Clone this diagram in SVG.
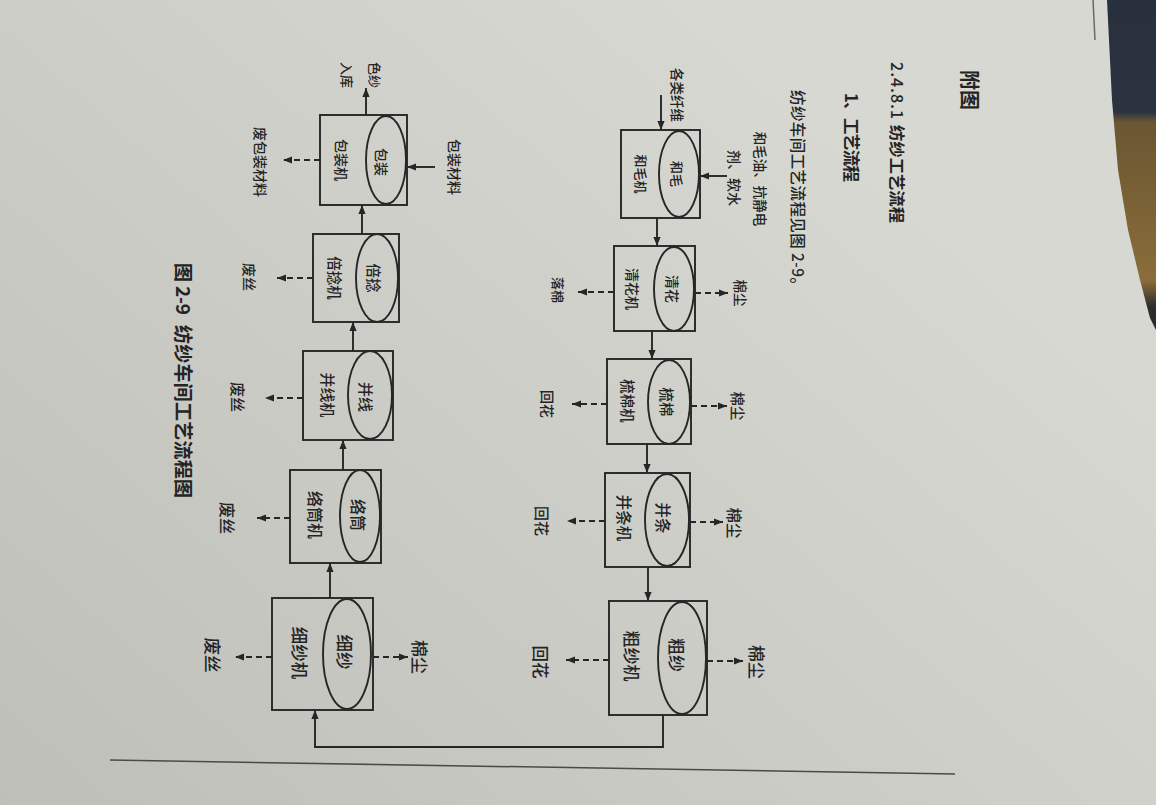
<svg xmlns="http://www.w3.org/2000/svg" width="1156" height="805" viewBox="0 0 1156 805">
<defs>
<linearGradient id="paper" gradientUnits="userSpaceOnUse" x1="0" y1="805" x2="700" y2="0">
<stop offset="0" stop-color="#bebfb9"/>
<stop offset="1" stop-color="#d8d8d2"/>
</linearGradient>
<linearGradient id="edge" gradientUnits="userSpaceOnUse" x1="0" y1="0" x2="0" y2="330">
<stop offset="0" stop-color="#27303c"/>
<stop offset="0.34" stop-color="#2b3340"/>
<stop offset="0.37" stop-color="#6a5632"/>
<stop offset="0.85" stop-color="#8a6d3a"/>
<stop offset="0.93" stop-color="#2c2c2c"/>
<stop offset="1" stop-color="#2c2c2c"/>
</linearGradient>
<marker id="ah" viewBox="0 0 10 8" refX="10" refY="4" markerWidth="9" markerHeight="7.5" markerUnits="userSpaceOnUse" orient="auto">
<path d="M0,0 L10,4 L0,8 Z" fill="#262626"/>
</marker>
<style>
.box{fill:none;stroke:#262626;stroke-width:1.9}
.ell{fill:none;stroke:#262626;stroke-width:1.9}
.flow{fill:none;stroke:#262626;stroke-width:1.9;marker-end:url(#ah)}
.dash{fill:none;stroke:#262626;stroke-width:1.9;stroke-dasharray:6 4;marker-end:url(#ah)}
text{font-family:"Noto Sans CJK SC","Noto Sans",sans-serif;fill:#242424;font-weight:500}
.v{text-anchor:middle;dominant-baseline:central}
.s{text-anchor:start;dominant-baseline:central}
.b{font-weight:bold}
</style>
</defs>

<rect x="0" y="0" width="1156" height="805" fill="url(#paper)"/>
<polygon points="1107,0 1156,0 1156,330 1150,318 1140,280 1128,230 1118,170 1112,100" fill="url(#edge)"/>
<line x1="1093" y1="0" x2="1095" y2="40" stroke="#6a6a66" stroke-width="1.5"/>
<line x1="110" y1="760" x2="955" y2="774" stroke="#4a4a4a" stroke-width="1.5"/>

<g id="headings">
<text class="s b" font-size="20" transform="translate(970,70) rotate(90)">附图</text>
<text class="s" font-size="16" textLength="57" transform="translate(898,62) rotate(90)">2.4.8.1</text>
<text class="s b" font-size="16.3" textLength="98" transform="translate(898,125) rotate(90)">纺纱工艺流程</text>
<text class="s b" font-size="16.5" textLength="89" transform="translate(852,93) rotate(90)">1、工艺流程</text>
<text class="s" font-size="15.5" textLength="203" transform="translate(799,90) rotate(90)">纺纱车间工艺流程见图 2-9。</text>
</g>

<g id="caption">
<text class="s b" font-size="19" textLength="52" transform="translate(184,263) rotate(90)">图 2-9</text>
<text class="s b" font-size="19" textLength="173" transform="translate(184,325) rotate(90)">纺纱车间工艺流程图</text>
</g>

<g id="connectors">
<path class="flow" d="M661,95 V130"/>
<path class="flow" d="M727,176 H700"/>
<path class="flow" d="M657,218 V246"/>
<path class="flow" d="M652,331 V359"/>
<path class="flow" d="M647,444 V473"/>
<path class="flow" d="M648,567 V601"/>
<path class="flow" d="M663,715 V747 H315 V710"/>
<path class="flow" d="M330,598 V563"/>
<path class="flow" d="M343,470 V440"/>
<path class="flow" d="M353,351 V322"/>
<path class="flow" d="M362,234 V205"/>
<path class="flow" d="M366,115 V88"/>
<path class="flow" d="M435,167 H407"/>
<path class="dash" d="M695,293 H728"/>
<path class="dash" d="M691,406 H727"/>
<path class="dash" d="M690,522 H723"/>
<path class="dash" d="M707,661 H743"/>
<path class="dash" d="M614,292 H578"/>
<path class="dash" d="M607,404 H572"/>
<path class="dash" d="M605,521 H567"/>
<path class="dash" d="M609,660 H566"/>
<path class="dash" d="M320,160 H283"/>
<path class="dash" d="M313,278 H277"/>
<path class="dash" d="M303,398 H265"/>
<path class="dash" d="M290,518 H257"/>
<path class="dash" d="M272,657 H235"/>
<path class="dash" d="M373,657 H408"/>
</g>

<g id="labels">
<text class="v" font-size="13.5" transform="translate(678,95) rotate(90)">各类纤维</text>
<text class="v" font-size="13.5" transform="translate(761,179) rotate(90)">和毛油、抗静电</text>
<text class="v" font-size="14" transform="translate(735,178) rotate(90)">剂、软水</text>
<text class="v" font-size="13.5" transform="translate(741,293) rotate(90)">棉尘</text>
<text class="v" font-size="14.5" transform="translate(738,406) rotate(90)">棉尘</text>
<text class="v" font-size="15.5" transform="translate(735,523) rotate(90)">棉尘</text>
<text class="v" font-size="17" transform="translate(757,662) rotate(90)">棉尘</text>
<text class="v" font-size="13" transform="translate(558,290) rotate(90)">落棉</text>
<text class="v" font-size="14" transform="translate(548,404) rotate(90)">回花</text>
<text class="v" font-size="15" transform="translate(542,521) rotate(90)">回花</text>
<text class="v" font-size="16.5" transform="translate(541,662) rotate(90)">回花</text>
<text class="v" font-size="14" transform="translate(455,167) rotate(90)">包装材料</text>
<text class="v" font-size="14" transform="translate(261,162) rotate(90)">废包装材料</text>
<text class="v" font-size="13" transform="translate(375,75) rotate(90)">色纱</text>
<text class="v" font-size="13" transform="translate(347,75) rotate(90)">入库</text>
<text class="v" font-size="14" transform="translate(250,277) rotate(90)">废丝</text>
<text class="v" font-size="15" transform="translate(238,397) rotate(90)">废丝</text>
<text class="v" font-size="16" transform="translate(228,518) rotate(90)">废丝</text>
<text class="v" font-size="17.5" transform="translate(213,655) rotate(90)">废丝</text>
<text class="v" font-size="17" transform="translate(420,657) rotate(90)">棉尘</text>
</g>

<g id="hemao">
<rect class="box" x="621" y="130" width="79" height="88"/>
<ellipse class="ell" cx="679" cy="174" rx="20" ry="43"/>
<text class="v" font-size="13" transform="translate(677,174) rotate(90)">和毛</text>
<text class="v" font-size="13" transform="translate(641,174) rotate(90)">和毛机</text>
</g>
<g id="qinghua">
<rect class="box" x="614" y="246" width="81" height="85"/>
<ellipse class="ell" cx="674" cy="289" rx="20" ry="42"/>
<text class="v" font-size="14" transform="translate(673,289) rotate(90)">清花</text>
<text class="v" font-size="14" transform="translate(633,289) rotate(90)">清花机</text>
</g>
<g id="shumian">
<rect class="box" x="607" y="359" width="84" height="85"/>
<ellipse class="ell" cx="669" cy="402" rx="21" ry="42"/>
<text class="v" font-size="14.5" transform="translate(667,402) rotate(90)">梳棉</text>
<text class="v" font-size="14.5" transform="translate(628,401) rotate(90)">梳棉机</text>
</g>
<g id="bingtiao">
<rect class="box" x="605" y="473" width="85" height="94"/>
<ellipse class="ell" cx="667" cy="520" rx="22" ry="46"/>
<text class="v" font-size="15.5" transform="translate(664,518) rotate(90)">并条</text>
<text class="v" font-size="15.5" transform="translate(625,518) rotate(90)">并条机</text>
</g>
<g id="cusha">
<rect class="box" x="609" y="601" width="98" height="114"/>
<ellipse class="ell" cx="682" cy="658" rx="24" ry="56"/>
<text class="v" font-size="17" transform="translate(677,655) rotate(90)">粗纱</text>
<text class="v" font-size="17" transform="translate(632,656) rotate(90)">粗纱机</text>
</g>
<g id="xisha">
<rect class="box" x="272" y="598" width="101" height="112"/>
<ellipse class="ell" cx="347" cy="654" rx="24" ry="55"/>
<text class="v" font-size="17.5" transform="translate(345,652) rotate(90)">细纱</text>
<text class="v" font-size="17.5" transform="translate(300,653) rotate(90)">细纱机</text>
</g>
<g id="luotong">
<rect class="box" x="290" y="470" width="91" height="93"/>
<ellipse class="ell" cx="360" cy="516" rx="20" ry="46"/>
<text class="v" font-size="16" transform="translate(359,515) rotate(90)">络筒</text>
<text class="v" font-size="16" transform="translate(316,515) rotate(90)">络筒机</text>
</g>
<g id="bingxian">
<rect class="box" x="303" y="351" width="90" height="89"/>
<ellipse class="ell" cx="370" cy="395" rx="22" ry="44"/>
<text class="v" font-size="15" transform="translate(366,397) rotate(90)">并线</text>
<text class="v" font-size="15" transform="translate(328,395) rotate(90)">并线机</text>
</g>
<g id="beinian">
<rect class="box" x="313" y="234" width="86" height="88"/>
<ellipse class="ell" cx="377" cy="278" rx="21" ry="44"/>
<text class="v" font-size="14.5" transform="translate(374,278) rotate(90)">倍捻</text>
<text class="v" font-size="14.5" transform="translate(335,278) rotate(90)">倍捻机</text>
</g>
<g id="baozhuang">
<rect class="box" x="320" y="115" width="87" height="90"/>
<ellipse class="ell" cx="386" cy="160" rx="20" ry="44"/>
<text class="v" font-size="14" transform="translate(382,162) rotate(90)">包装</text>
<text class="v" font-size="14" transform="translate(342,160) rotate(90)">包装机</text>
</g>
</svg>
